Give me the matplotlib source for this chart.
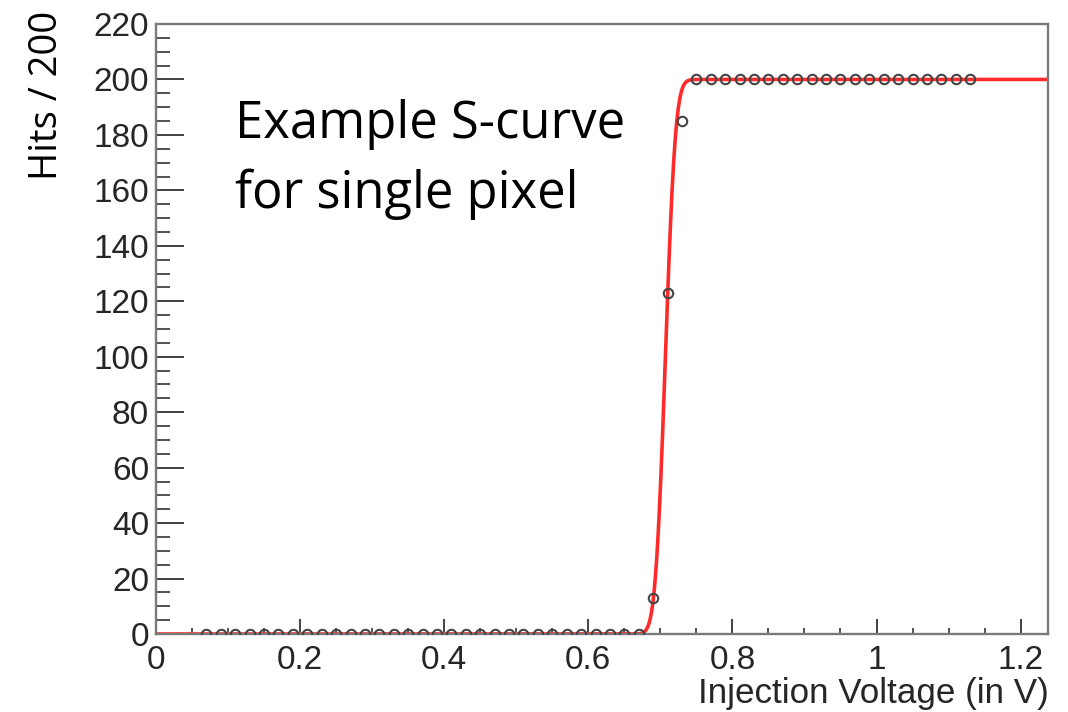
import math
import numpy as np
import matplotlib
matplotlib.use("Agg")
import matplotlib.pyplot as plt
from matplotlib.ticker import MultipleLocator, FuncFormatter

# Injection scan of one pixel: voltage steps (V) and hits out of 200 injections
voltage = [0.07, 0.09, 0.11, 0.13, 0.15, 0.17, 0.19, 0.21, 0.23, 0.25,
           0.27, 0.29, 0.31, 0.33, 0.35, 0.37, 0.39, 0.41, 0.43, 0.45,
           0.47, 0.49, 0.51, 0.53, 0.55, 0.57, 0.59, 0.61, 0.63, 0.65,
           0.67, 0.69, 0.71, 0.73, 0.75, 0.77, 0.79, 0.81, 0.83, 0.85,
           0.87, 0.89, 0.91, 0.93, 0.95, 0.97, 0.99, 1.01, 1.03, 1.05,
           1.07, 1.09, 1.11, 1.13]
hits = [0] * 31 + [13, 123, 185] + [200] * 20

# Error-function fit parameters
n_injections = 200
threshold = 0.707
noise = 0.011

x_range = (0.0, 1.238)
y_range = (0.0, 220.0)

fig = plt.figure(figsize=(10.68, 7.12), dpi=100)
ax = fig.add_axes([156 / 1068, 1 - 634 / 712, (1048 - 156) / 1068, (634 - 24) / 712])

xf = np.linspace(x_range[0], x_range[1], 3000)
yf = np.array([0.5 * n_injections * (1 + math.erf((v - threshold) / (math.sqrt(2) * noise)))
               for v in xf])
ax.plot(xf, yf, color="#ff2b2b", lw=2.6, zorder=2, solid_capstyle="butt")
ax.plot(voltage, hits, ls="none", marker="o", ms=6.8, mfc="none", mec="#444444",
        mew=1.5, zorder=3)

ax.set_xlim(*x_range)
ax.set_ylim(*y_range)

for side in ("left", "bottom", "top", "right"):
    ax.spines[side].set_color("#7a7a7a")
    ax.spines[side].set_linewidth(1.7)

tick_font = dict(family="Liberation Sans", size=24, color="#262626")
ax.xaxis.set_major_locator(MultipleLocator(0.2))
ax.xaxis.set_minor_locator(MultipleLocator(0.05))
ax.yaxis.set_major_locator(MultipleLocator(20))
ax.yaxis.set_minor_locator(MultipleLocator(5))
ax.xaxis.set_major_formatter(FuncFormatter(lambda v, p: f"{v:g}"))
ax.yaxis.set_major_formatter(FuncFormatter(lambda v, p: f"{v:g}"))

ax.tick_params(axis="x", which="major", direction="in", length=11, width=1.3,
               color="#333333", pad=8, top=False)
ax.tick_params(axis="x", which="minor", direction="in", length=4.5, width=1.2,
               color="#333333", top=False)
ax.tick_params(axis="y", which="major", direction="in", length=20, width=1.3,
               color="#333333", pad=5, right=False)
ax.tick_params(axis="y", which="minor", direction="in", length=10, width=1.2,
               color="#333333", right=False)
for lab in ax.get_xticklabels() + ax.get_yticklabels():
    lab.set_fontfamily(tick_font["family"])
    lab.set_fontsize(tick_font["size"])
    lab.set_color(tick_font["color"])

fig.text(1049 / 1068, 1 - 693 / 712, "Injection Voltage (in V)", ha="right", va="center",
         family="Liberation Sans", fontsize=25.2, color="#262626")
fig.text(47 / 1068, 1 - 95 / 712, "Hits / 200", rotation=90, ha="center", va="center",
         family="Open Sans", fontsize=27.5, color="black")

fig.text(235 / 1068, 1 - 138 / 712, "Example S-curve", ha="left", va="baseline",
         family="Open Sans", fontsize=36.5, color="black")
fig.text(235 / 1068, 1 - 208 / 712, "for single pixel", ha="left", va="baseline",
         family="Open Sans", fontsize=36.5, color="black")

fig.savefig("out.png", dpi=100)
